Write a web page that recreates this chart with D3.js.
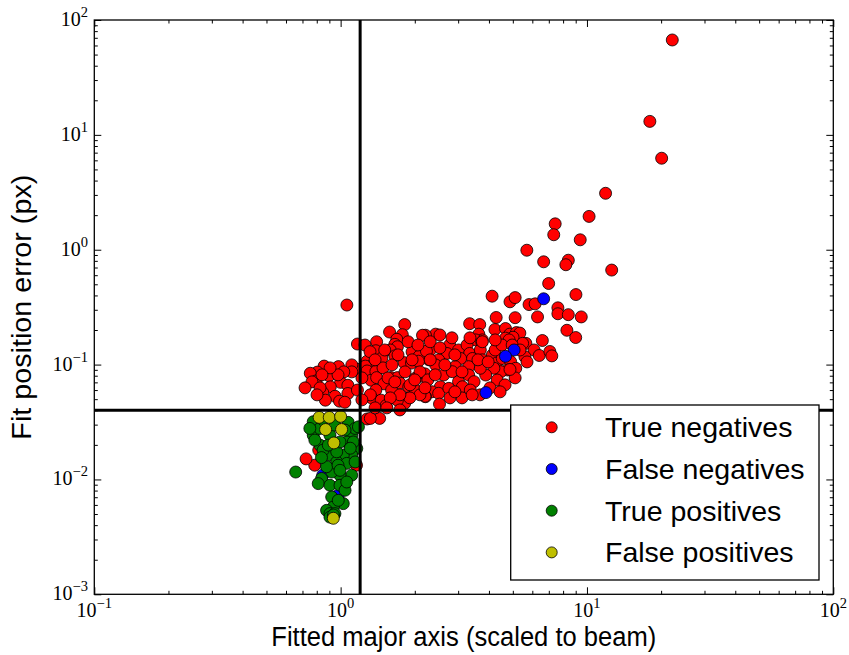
<!DOCTYPE html>
<html>
<head>
<meta charset="utf-8">
<script src="https://cdn.jsdelivr.net/npm/d3@7"></script>
<style>
  body { margin: 0; background: #fff; }
  svg { display: block; }
</style>
</head>
<body>
<svg id="svg"></svg>
<script>
// data: [major axis, position error]
const trueNegatives = [
  [22.2, 67], [18.0, 13.1], [20.1, 6.26], [11.9, 3.1], [10.2, 1.95], [7.43, 1.68], [7.33, 1.35],
  [9.39, 1.22], [5.70, 0.99], [6.67, 0.785], [8.40, 0.81], [8.21, 0.74], [12.6, 0.665], [6.99, 0.508],
  [9.02, 0.407], [4.12, 0.394], [4.87, 0.352], [5.11, 0.383], [5.82, 0.333], [6.16, 0.338], [7.62, 0.312],
  [7.62, 0.277], [8.40, 0.272], [9.48, 0.26], [4.28, 0.257], [5.11, 0.256], [6.30, 0.26], [8.29, 0.199],
  [9.00, 0.172], [6.59, 0.162], [3.34, 0.227], [3.67, 0.223], [4.23, 0.202], [4.67, 0.206], [4.86, 0.184],
  [5.17, 0.190], [5.34, 0.188], [5.01, 0.173], [4.67, 0.170], [4.83, 0.164], [3.64, 0.184], [3.76, 0.164],
  [3.53, 0.164], [3.74, 0.157], [5.65, 0.153], [5.48, 0.153], [2.43, 0.184], [2.21, 0.180], [6.10, 0.134],
  [6.40, 0.120], [7.07, 0.130], [7.20, 0.119], [5.60, 0.117], [2.77, 0.148], [3.01, 0.134], [3.26, 0.148],
  [3.34, 0.125], [3.69, 0.134], [3.76, 0.158], [4.13, 0.121], [4.30, 0.103], [4.53, 0.113], [4.90, 0.106],
  [5.14, 0.0929], [4.76, 0.0897], [4.47, 0.0867], [4.19, 0.0929], [3.76, 0.110], [3.43, 0.113], [3.31, 0.0959],
  [3.07, 0.113], [2.92, 0.0959], [2.70, 0.125], [2.50, 0.110], [2.31, 0.134], [2.28, 0.110], [2.43, 0.0993],
  [2.62, 0.0811], [2.84, 0.0867], [3.01, 0.0710], [3.31, 0.0811], [3.48, 0.0710], [3.88, 0.0811], [4.32, 0.0734],
  [3.69, 0.0929], [2.54, 0.0641], [2.35, 0.0580], [2.21, 0.0525], [2.50, 0.0562], [2.75, 0.0621], [3.12, 0.0641],
  [3.36, 0.0600], [2.52, 0.0453], [1.06, 0.33], [1.17, 0.151], [1.40, 0.158], [1.58, 0.192], [1.82, 0.223],
  [1.78, 0.182], [1.69, 0.166], [1.66, 0.150], [1.70, 0.143], [2.15, 0.180], [1.95, 0.129], [2.08, 0.118],
  [2.23, 0.131], [1.39, 0.132], [1.47, 0.114], [1.28, 0.107], [1.36, 0.101], [1.59, 0.134], [1.66, 0.119],
  [1.81, 0.104], [1.94, 0.103], [2.07, 0.107], [0.857, 0.097], [0.805, 0.086], [0.898, 0.080], [0.98, 0.096],
  [0.753, 0.084], [0.795, 0.072], [1.00, 0.070], [1.07, 0.066], [0.908, 0.064], [0.949, 0.053], [1.07, 0.056],
  [1.17, 0.060], [1.17, 0.091], [0.846, 0.057], [0.867, 0.049], [0.99, 0.048], [1.04, 0.047], [1.26, 0.097],
  [1.28, 0.088], [1.33, 0.073], [1.39, 0.087], [1.40, 0.077], [1.50, 0.068], [1.39, 0.060], [1.34, 0.051],
  [1.46, 0.049], [1.53, 0.044], [1.60, 0.077], [1.70, 0.077], [1.74, 0.069], [1.89, 0.064], [2.01, 0.076],
  [2.09, 0.079], [2.20, 0.083], [2.01, 0.060], [2.20, 0.053], [1.88, 0.051], [1.82, 0.046], [1.70, 0.049],
  [1.61, 0.060], [1.44, 0.034], [1.28, 0.0336], [1.32, 0.034], [1.256, 0.148], [1.316, 0.1295], [1.486, 0.0936],
  [1.557, 0.0766], [1.617, 0.0994], [1.826, 0.0864], [1.913, 0.0666], [2.10, 0.0864], [2.26, 0.0736],
  [2.42, 0.0814], [2.65, 0.0994], [2.91, 0.1215], [3.11, 0.0864], [3.61, 0.110], [3.97, 0.1055], [4.24, 0.134],
  [4.52, 0.148], [4.97, 0.148], [5.35, 0.134], [5.71, 0.1055], [5.11, 0.0766], [4.65, 0.0666], [4.04, 0.0627],
  [3.68, 0.0545], [3.11, 0.0513], [2.78, 0.0513], [2.10, 0.0545], [1.91, 0.0513], [1.74, 0.0545], [1.59, 0.0513],
  [1.32, 0.0545], [1.22, 0.0766], [1.71, 0.1215], [1.88, 0.158], [2.06, 0.148], [2.31, 0.158], [2.53, 0.140],
  [2.83, 0.171], [3.35, 0.171], [4.24, 0.164], [1.11, 0.0994], [1.22, 0.0493], [1.38, 0.042], [1.54, 0.042],
  [1.74, 0.0403], [1.11, 0.0864], [1.03, 0.0864], [0.976, 0.0814], [0.906, 0.0936], [0.84, 0.0814],
  [0.765, 0.0707], [0.825, 0.0627], [0.717, 0.0627], [0.815, 0.018], [1.16, 0.0133], [0.785, 0.0133],
  [0.724, 0.0151], [1.38, 0.110], [1.66, 0.0707], [2.00, 0.0736], [2.20, 0.0627], [2.91, 0.0579],
  [3.42, 0.0545], [4.44, 0.0579], [4.87, 0.0907], [2.31, 0.110], [1.95, 0.110], [1.51, 0.134], [2.53, 0.181],
  [0.802, 0.0545]
];
const falseNegatives = [
  [6.67, 0.374], [5.06, 0.134], [4.67, 0.118], [3.89, 0.057], [0.846, 0.0109], [0.978, 0.00728]
];
const truePositives = [
  [0.774, 0.0318], [0.774, 0.0243], [0.824, 0.0199], [0.905, 0.0243], [1.073, 0.0314], [1.109, 0.0243],
  [1.145, 0.0278], [1.059, 0.0212], [1.163, 0.0186], [1.109, 0.0163], [1.025, 0.0163], [0.905, 0.0163],
  [0.849, 0.0180], [0.964, 0.0142], [1.059, 0.0138], [1.109, 0.0109], [0.994, 0.0109], [0.920, 0.0116],
  [0.877, 0.0129], [0.837, 0.0102], [0.811, 0.0092], [0.905, 0.0089], [0.994, 0.0089], [1.042, 0.00805],
  [0.920, 0.00703], [1.025, 0.00616], [0.934, 0.00575], [0.877, 0.00538], [0.905, 0.00504], [0.948, 0.00504],
  [0.978, 0.00658], [1.126, 0.0212], [1.145, 0.0142], [1.181, 0.0287], [0.964, 0.0174], [0.824, 0.0278],
  [0.891, 0.0199], [0.994, 0.0212], [1.059, 0.0095], [0.657, 0.0116], [0.75, 0.0278], [0.786, 0.0220],
  [0.849, 0.033], [0.948, 0.0297], [1.042, 0.0269], [0.976, 0.0133], [0.905, 0.0047], [0.935, 0.0049],
  [0.994, 0.012], [0.836, 0.0155], [1.094, 0.0187]
];
const falsePositives = [
  [0.818, 0.0347], [0.899, 0.0347], [1.00, 0.0354], [0.869, 0.0272], [1.009, 0.0272], [0.939, 0.0208],
  [0.934, 0.00459]
];
const seriesNames = ["True negatives", "False negatives", "True positives", "False positives"];
const seriesColors = ["#ff0000", "#0000ff", "#008000", "#bfbf00"];
const xTickExps = [-1, 0, 1, 2];
const yTickExps = [-3, -2, -1, 0, 1, 2];
const axisCut = 1.2;      // vertical threshold line
const errorCut = 0.04;    // horizontal threshold line

const svgWidth = 849, svgHeight = 655;
const mLeft = 94.3, mRight = 833.3, mTop = 20, mBottom = 594.3;

const svg = d3.select("#svg").attr("width", svgWidth).attr("height", svgHeight);

const x = d3.scaleLog().domain([0.1, 100]).range([mLeft, mRight]);
const y = d3.scaleLog().domain([0.001, 100]).range([mBottom, mTop]);

// points
const allSeries = [trueNegatives, falseNegatives, truePositives, falsePositives];
const plot = svg.append("g");
allSeries.forEach((pts, i) => {
    plot.append("g").selectAll("circle")
        .data(pts)
        .enter()
        .append("circle")
        .attr("cx", d => x(d[0]))
        .attr("cy", d => y(d[1]))
        .attr("r", 6)
        .attr("fill", seriesColors[i])
        .attr("stroke", "#000")
        .attr("stroke-width", 0.8);
});

// threshold lines
svg.append("line")
    .attr("x1", x(axisCut)).attr("x2", x(axisCut))
    .attr("y1", mTop).attr("y2", mBottom)
    .attr("stroke", "#000").attr("stroke-width", 3);
svg.append("line")
    .attr("x1", mLeft).attr("x2", mRight)
    .attr("y1", y(errorCut)).attr("y2", y(errorCut))
    .attr("stroke", "#000").attr("stroke-width", 3);

// ticks (inside, on all four sides)
const xMajor = xTickExps.map(e => Math.pow(10, e));
const yMajor = yTickExps.map(e => Math.pow(10, e));
const xMinor = x.ticks().filter(v => !xMajor.some(m => Math.abs(m - v) / m < 1e-6));
const yMinor = y.ticks().filter(v => !yMajor.some(m => Math.abs(m - v) / m < 1e-6));

function tickAxis(axisFn, scale, vals, size, tx, ty) {
    const g = svg.append("g")
        .attr("transform", "translate(" + tx + "," + ty + ")")
        .call(axisFn(scale).tickValues(vals).tickSize(-size).tickFormat(""));
    g.select(".domain").remove();
    g.selectAll("line").attr("stroke", "#000").attr("stroke-width", 1);
}
tickAxis(d3.axisBottom, x, xMajor, 7, 0, mBottom);
tickAxis(d3.axisBottom, x, xMinor, 3.5, 0, mBottom);
tickAxis(d3.axisTop, x, xMajor, 7, 0, mTop);
tickAxis(d3.axisTop, x, xMinor, 3.5, 0, mTop);
tickAxis(d3.axisLeft, y, yMajor, 7, mLeft, 0);
tickAxis(d3.axisLeft, y, yMinor, 3.5, mLeft, 0);
tickAxis(d3.axisRight, y, yMajor, 7, mRight, 0);
tickAxis(d3.axisRight, y, yMinor, 3.5, mRight, 0);

// frame
svg.append("rect")
    .attr("x", mLeft).attr("y", mTop)
    .attr("width", mRight - mLeft).attr("height", mBottom - mTop)
    .attr("fill", "none").attr("stroke", "#000").attr("stroke-width", 1.3);

// tick labels like 10^-1
function expLabel(g, e) {
    g.append("tspan").text("10");
    g.append("tspan")
        .attr("dy", -9)
        .attr("font-size", 14.5)
        .text(String(e).replace("-", "\u2212"));
}
const serif = "'Liberation Serif', 'Times New Roman', serif";
xTickExps.forEach(e => {
    const t = svg.append("text")
        .attr("x", x(Math.pow(10, e)))
        .attr("y", 617)
        .attr("text-anchor", "middle")
        .attr("font-family", serif)
        .attr("font-size", 20);
    expLabel(t, e);
});
yTickExps.forEach(e => {
    const t = svg.append("text")
        .attr("x", 88)
        .attr("y", y(Math.pow(10, e)) + 6)
        .attr("text-anchor", "end")
        .attr("font-family", serif)
        .attr("font-size", 20);
    expLabel(t, e);
});

// axis titles
const sans = "'Liberation Sans', Arial, Helvetica, sans-serif";
svg.append("text")
    .attr("x", (mLeft + mRight) / 2)
    .attr("y", 646)
    .attr("text-anchor", "middle")
    .attr("font-family", sans)
    .attr("font-size", 27)
    .attr("textLength", 385)
    .attr("lengthAdjust", "spacingAndGlyphs")
    .text("Fitted major axis (scaled to beam)");
svg.append("text")
    .attr("transform", "translate(31," + (mTop + mBottom) / 2 + ") rotate(-90)")
    .attr("text-anchor", "middle")
    .attr("font-family", sans)
    .attr("font-size", 27)
    .attr("textLength", 265)
    .attr("lengthAdjust", "spacingAndGlyphs")
    .text("Fit position error (px)");

// legend
const legend = svg.append("g");
legend.append("rect")
    .attr("x", 510.7).attr("y", 405)
    .attr("width", 308.3).attr("height", 175)
    .attr("fill", "#fff").attr("stroke", "#000").attr("stroke-width", 1.3);
seriesNames.forEach((name, i) => {
    const cy = 427.3 + i * 41.7;
    legend.append("circle")
        .attr("cx", 551.7).attr("cy", cy).attr("r", 5.5)
        .attr("fill", seriesColors[i]).attr("stroke", "#000").attr("stroke-width", 0.8);
    legend.append("text")
        .attr("x", 605).attr("y", cy + 10)
        .attr("font-family", sans)
        .attr("font-size", 28.5)
        .text(name);
});
</script>
</body>
</html>
